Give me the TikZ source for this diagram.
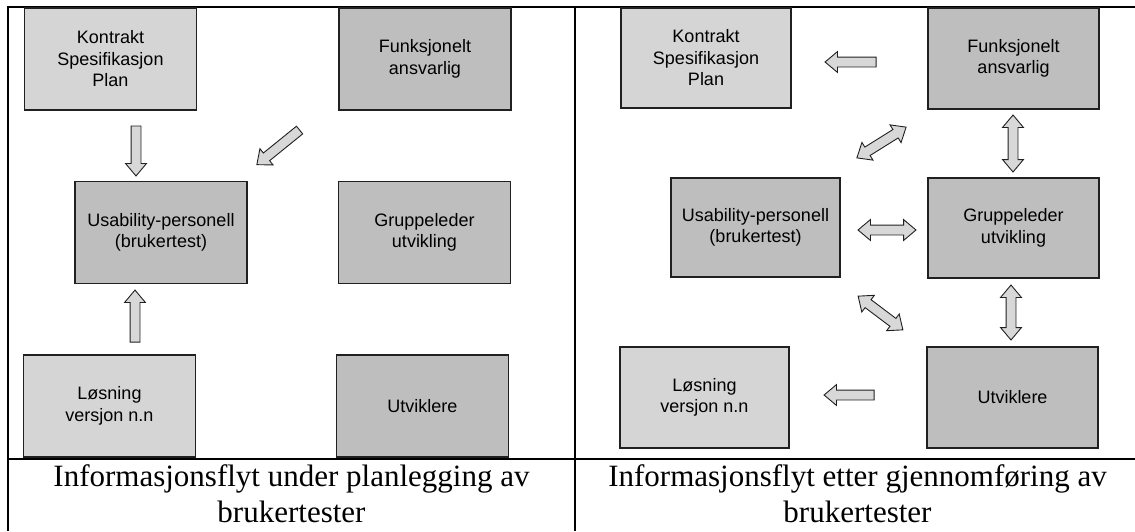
\documentclass[tikz,border=0pt]{standalone}
\usepackage{fontspec}
\setmainfont{Liberation Serif}
\newfontfamily\boxfont{Liberation Sans}
\usetikzlibrary{shapes.arrows}
\definecolor{boxlight}{HTML}{D5D5D5}
\definecolor{boxdark}{HTML}{BEBEBE}
\definecolor{arrfill}{HTML}{D8D8D8}
\definecolor{edgecol}{HTML}{202020}
\tikzset{
  frameline/.style={line width=1.3pt, black},
  panelbox/.style={draw=edgecol, line width=1.2pt, minimum width=172pt, minimum height=102pt,
    inner sep=0pt, align=center, font=\boxfont\fontsize{18}{21.5}\selectfont},
  lightbox/.style={panelbox, fill=boxlight},
  darkbox/.style={panelbox, fill=boxdark},
  sarrow/.style={single arrow, draw=edgecol, fill=arrfill, line width=0.9pt,
    inner xsep=0pt, inner ysep=4.5pt, single arrow head extend=5.5pt,
    single arrow tip angle=80, minimum height=#1},
  darrow/.style={double arrow, draw=edgecol, fill=arrfill, line width=0.9pt,
    inner xsep=0pt, inner ysep=4.5pt, double arrow head extend=5.5pt,
    double arrow tip angle=80, minimum height=#1},
  caption/.style={align=center, font=\fontsize{31}{36}\selectfont, inner sep=0pt}
}
\begin{document}
\begin{tikzpicture}[x=1pt, y=-1pt]
\useasboundingbox (0,0) rectangle (1135,531);
% frame
\draw[frameline] (8,531) -- (8,7) -- (1135,7);
\draw[frameline] (575,7) -- (575,531);
\draw[frameline] (8,459) -- (1135,459);
% left panel
\node[lightbox] (k1) at (110.5,59) {Kontrakt\\Spesifikasjon\\Plan};
\node[darkbox]  (f1) at (425,59) {Funksjonelt\\ansvarlig};
\node[darkbox]  (u1) at (161,232.5) {Usability-personell\\(brukertest)};
\node[darkbox]  (g1) at (424.5,232.5) {Gruppeleder\\utvikling};
\node[lightbox] (l1) at (109.5,406) {Løsning\\versjon n.n};
\node[darkbox]  (v1) at (422.5,406) {Utviklere};
\node[sarrow=50pt, rotate=-90] (a1) at (136,148) {};
\node[sarrow=55pt, rotate=-141] (a2) at (280.5,145.5) {};
\node[sarrow=52pt, rotate=90] (a3) at (135,319) {};
% right panel
\node[lightbox, minimum width=170pt, minimum height=100pt] (k2) at (706,58) {Kontrakt\\Spesifikasjon\\Plan};
\node[darkbox, minimum width=171pt, minimum height=101pt]  (f2) at (1013.5,58.5) {Funksjonelt\\ansvarlig};
\node[darkbox, minimum width=169pt, minimum height=99pt]  (u2) at (755.5,227.5) {Usability-personell\\(brukertest)};
\node[darkbox, minimum width=171pt, minimum height=100pt]  (g2) at (1013.5,228) {Gruppeleder\\utvikling};
\node[lightbox, minimum width=169pt, minimum height=101pt] (l2) at (704.5,397.5) {Løsning\\versjon n.n};
\node[darkbox, minimum width=171pt, minimum height=101pt]  (v2) at (1012.5,397.5) {Utviklere};
\node[sarrow=51pt, rotate=180] (b1) at (853.5,62) {};
\node[darrow=58pt, rotate=32] (b2) at (881.5,142.5) {};
\node[darrow=57pt, rotate=90] (b3) at (1013,143.5) {};
\node[darrow=58pt] (b4) at (887,230) {};
\node[darrow=56pt, rotate=-37] (b5) at (880.5,313) {};
\node[darrow=55pt, rotate=90] (b6) at (1011,312.5) {};
\node[sarrow=50pt, rotate=180] (b7) at (852,395) {};
% captions
\node[caption] (c1) at (291.5,494) {Informasjonsflyt under planlegging av\\brukertester};
\node[caption] (c2) at (857.5,494) {Informasjonsflyt etter gjennomføring av\\brukertester};
\end{tikzpicture}
\end{document}
